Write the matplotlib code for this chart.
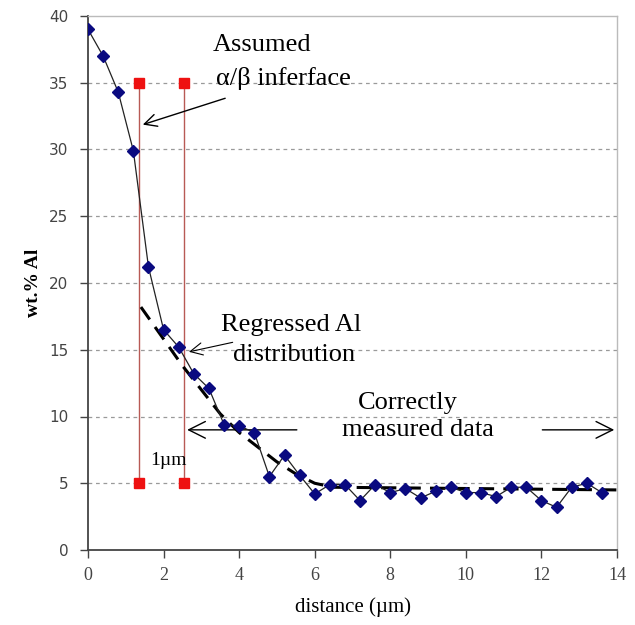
import matplotlib
matplotlib.use("Agg")
import matplotlib.pyplot as plt

# Measured data
distance = [0.0, 0.4, 0.8, 1.2, 1.6, 2.0, 2.4, 2.8, 3.2, 3.6, 4.0, 4.4, 4.8, 5.2,
            5.6, 6.0, 6.4, 6.8, 7.2, 7.6, 8.0, 8.4, 8.8, 9.2, 9.6, 10.0, 10.4,
            10.8, 11.2, 11.6, 12.0, 12.4, 12.8, 13.2, 13.6]
wt_al = [39.0, 37.0, 34.3, 29.9, 21.2, 16.5, 15.2, 13.2, 12.1, 9.4, 9.3, 8.8, 5.5, 7.1,
         5.6, 4.2, 4.9, 4.9, 3.7, 4.9, 4.3, 4.6, 3.9, 4.4, 4.7, 4.3, 4.3,
         4.0, 4.7, 4.7, 3.7, 3.2, 4.7, 5.0, 4.3]

# Regressed distribution
reg_x = [1.4, 2.0, 2.5, 3.0, 3.5, 4.0, 4.5, 5.0, 5.5, 6.0, 6.5, 14.0]
reg_y = [18.2, 15.8, 13.8, 12.0, 10.2, 8.8, 7.7, 6.6, 5.7, 5.0, 4.7, 4.5]

# Interface markers
iface_x = [1.35, 2.55]
iface_top = 35
iface_bot = 5

fig = plt.figure(figsize=(6.35, 6.25), dpi=100)
ax = fig.add_axes([0.1386, 0.12, 0.9717 - 0.1386, 0.9744 - 0.12])

ax.set_xlim(0, 14)
ax.set_ylim(0, 40)
ax.set_xticks(range(0, 15, 2))
ax.set_yticks(range(0, 41, 5))
for yv in range(5, 40, 5):
    ax.axhline(yv, color="#9a9a9a", lw=0.9, ls=(0, (3, 3)), zorder=0)

for xv in iface_x:
    ax.plot([xv, xv], [iface_bot, iface_top], color="#b85a55", lw=1.0, zorder=2)
    ax.plot([xv, xv], [iface_bot, iface_top], ls="none", marker="s", ms=7,
            color="#ee1111", zorder=4)

ax.plot(reg_x, reg_y, color="black", lw=2.2, ls=(0, (5, 3)), zorder=3)
ax.plot(distance, wt_al, color="#222222", lw=0.9, marker="D", ms=6,
        mfc="#0a0a80", mec="#0a0a80", zorder=5)

serif = "Liberation Serif"
ax.text(4.6, 37.8, "Assumed", ha="center", va="center", fontsize=19, family=serif)
ax.text(5.16, 35.3, "α/β inferface", ha="center", va="center", fontsize=19, family=serif)
ax.annotate("", xy=(1.38, 31.8), xytext=(3.7, 33.9),
            arrowprops=dict(arrowstyle="->", lw=1.0, color="black",
                            mutation_scale=22))

ax.text(5.37, 16.85, "Regressed Al", ha="center", va="center", fontsize=19, family=serif)
ax.text(5.45, 14.6, "distribution", ha="center", va="center", fontsize=19, family=serif)
ax.annotate("", xy=(2.6, 14.8), xytext=(3.9, 15.6),
            arrowprops=dict(arrowstyle="->", lw=0.8, color="black",
                            mutation_scale=22))

ax.text(8.47, 11.0, "Correctly", ha="center", va="center", fontsize=19, family=serif)
ax.text(8.73, 9.0, "measured data", ha="center", va="center", fontsize=19, family=serif)
ax.annotate("", xy=(2.55, 9.0), xytext=(5.6, 9.0),
            arrowprops=dict(arrowstyle="->", lw=1.0, color="black",
                            mutation_scale=30))
ax.annotate("", xy=(14.0, 9.0), xytext=(11.95, 9.0),
            arrowprops=dict(arrowstyle="->", lw=1.0, color="black",
                            mutation_scale=30))

ax.text(1.65, 6.7, "1µm", ha="left", va="center", fontsize=14, family=serif)

ax.set_xlabel("distance (µm)", fontsize=15, family=serif, labelpad=10)
ax.set_ylabel("wt.% Al", fontsize=14, family=serif, fontweight="bold", labelpad=5)

for s in ["left", "bottom"]:
    ax.spines[s].set_color("#444444")
    ax.spines[s].set_linewidth(1.3)
for s in ["right", "top"]:
    ax.spines[s].set_color("#bbbbbb")
    ax.spines[s].set_linewidth(1.0)
ax.tick_params(direction="out", length=6, width=1.0, color="#444444",
               labelsize=11, labelcolor="#444444", pad=8)
ax.tick_params(axis="x", pad=6)
for lab in ax.get_xticklabels():
    lab.set_family(serif)
    lab.set_fontsize(13)

fig.savefig("out.png", dpi=100)
